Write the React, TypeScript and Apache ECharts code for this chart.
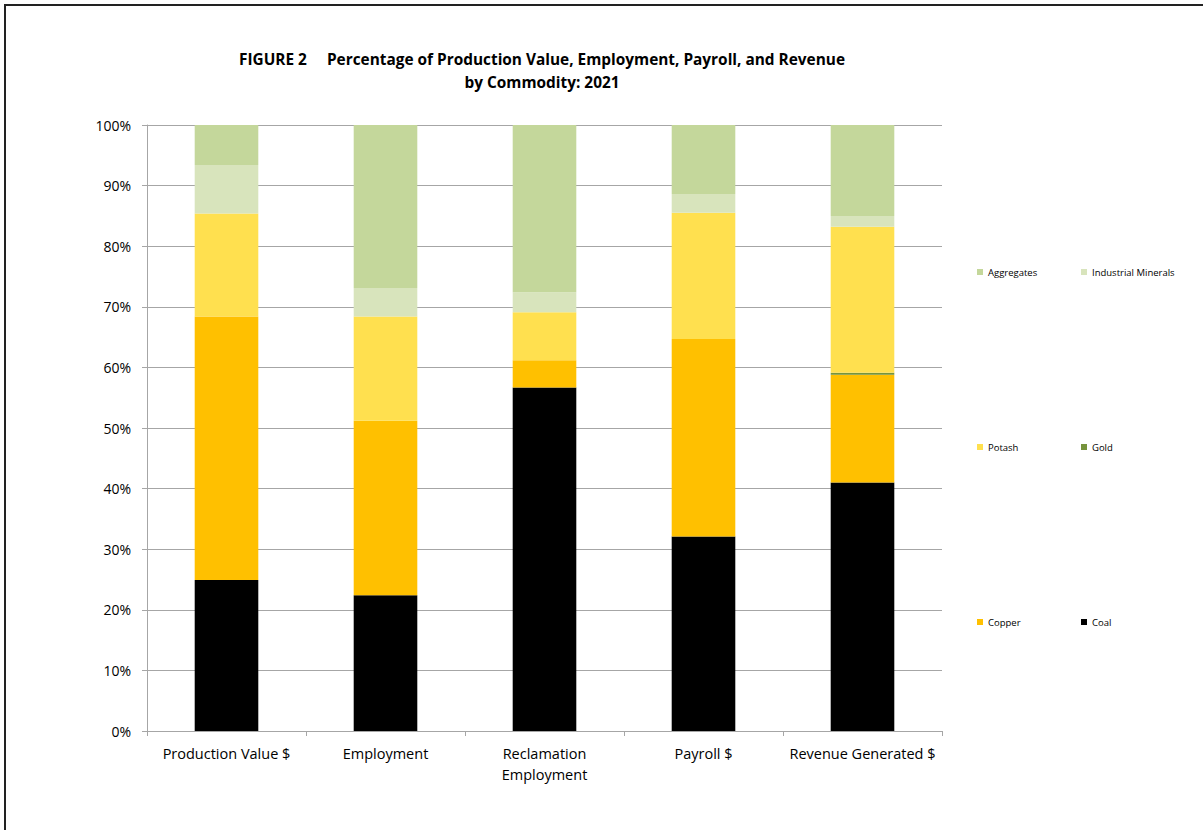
import React, { useEffect, useRef } from "react";
import * as echarts from "echarts";

const categories = ["Production Value $", "Employment", "Reclamation\nEmployment", "Payroll $", "Revenue Generated $"];
const coal = [24.9, 22.4, 56.7, 32.1, 41.0];
const copper = [43.5, 28.8, 4.5, 32.6, 17.8];
const gold = [0, 0, 0, 0, 0.3];
const potash = [17.0, 17.2, 7.9, 20.8, 24.1];
const industrialMinerals = [8.0, 4.7, 3.3, 3.1, 1.8];
const aggregates = [6.6, 26.9, 27.6, 11.4, 15.0];

const titleText = "FIGURE 2     Percentage of Production Value, Employment, Payroll, and Revenue\nby Commodity: 2021";

const FONT = "'Open Sans', sans-serif";

const seriesDefs = [
  { name: "Coal", data: coal, color: "#000000" },
  { name: "Copper", data: copper, color: "#FFC000" },
  { name: "Gold", data: gold, color: "#76933C" },
  { name: "Potash", data: potash, color: "#FFE04F" },
  { name: "Industrial Minerals", data: industrialMinerals, color: "#D8E4BC" },
  { name: "Aggregates", data: aggregates, color: "#C4D79B" },
];

const legendPos: { name: string; left: number; cy: number }[] = [
  { name: "Aggregates", left: 977, cy: 272 },
  { name: "Industrial Minerals", left: 1081, cy: 272 },
  { name: "Potash", left: 977, cy: 447 },
  { name: "Gold", left: 1081, cy: 447 },
  { name: "Copper", left: 977, cy: 622 },
  { name: "Coal", left: 1081, cy: 622 },
];

export default function App() {
  const ref = useRef<HTMLDivElement>(null);
  useEffect(() => {
    document.body.style.margin = "0";
    const chart = echarts.init(ref.current!, undefined, { renderer: "svg" });
    chart.setOption({
      animation: false,
      backgroundColor: "#ffffff",
      textStyle: { fontFamily: FONT },
      grid: { left: 147, right: 261, top: 125, bottom: 99, containLabel: false },
      legend: legendPos.map((l) => ({
        data: [l.name],
        left: l.left,
        top: l.cy - 6,
        padding: 0,
        itemWidth: 6,
        itemHeight: 6,
        itemGap: 0,
        itemTextGap: 3,
        icon: "rect",
        selectedMode: false,
        textStyle: { fontSize: 9.5, color: "#000", fontFamily: FONT, lineHeight: 12 },
      })),
      xAxis: {
        type: "category",
        data: categories,
        axisLine: { lineStyle: { color: "#A6A6A6", width: 1 } },
        axisTick: { show: true, alignWithLabel: false, length: 5, lineStyle: { color: "#A6A6A6" } },
        axisLabel: { color: "#000", fontSize: 14.5, margin: 12, lineHeight: 21, interval: 0, fontFamily: FONT },
      },
      yAxis: {
        type: "value",
        min: 0,
        max: 100,
        interval: 10,
        axisLine: { show: true, lineStyle: { color: "#A6A6A6", width: 1 } },
        axisTick: { show: true, length: 5, lineStyle: { color: "#A6A6A6" } },
        axisLabel: { color: "#000", fontSize: 14, margin: 16, formatter: "{value}%", fontFamily: FONT },
        splitLine: { show: true, lineStyle: { color: "#A6A6A6", width: 1 } },
      },
      series: seriesDefs.map((s) => ({
        name: s.name,
        type: "bar",
        stack: "total",
        data: s.data,
        barWidth: "40%",
        itemStyle: { color: s.color },
        emphasis: { disabled: true },
      })),
      graphic: [
        {
          type: "polyline",
          shape: { points: [[5, 830], [5, 5], [1203, 5]] },
          style: { stroke: "#222", lineWidth: 2, fill: "none" },
          silent: true,
        },
        {
          type: "text",
          x: 542,
          y: 71,
          style: {
            text: titleText,
            align: "center",
            verticalAlign: "middle",
            font: `bold 15.4px ${FONT}`,
            lineHeight: 23,
            fill: "#000",
          },
          silent: true,
        },
      ],
    });
    return () => chart.dispose();
  }, []);
  return <div ref={ref} style={{ width: 1203, height: 830 }} />;
}
